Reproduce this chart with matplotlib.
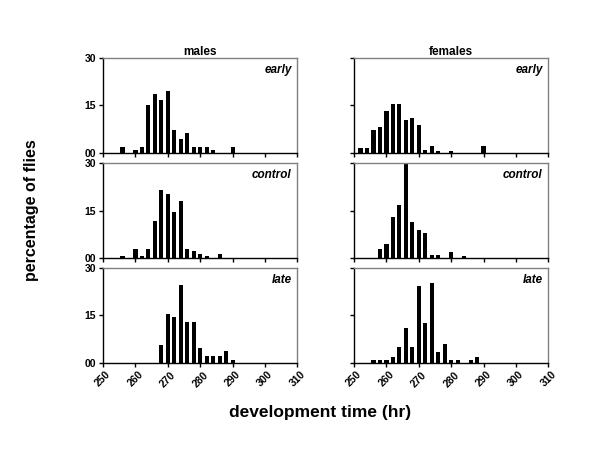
import matplotlib
matplotlib.use('Agg')
import matplotlib.pyplot as plt

plt.rcParams['font.family'] = ['Liberation Sans', 'DejaVu Sans']

# bin centres (hr) and percentage of flies
m_early_x = [256, 260, 262, 264, 266, 268, 270, 272, 274, 276, 278, 280, 282, 284, 290]
m_early_y = [1.7, 0.8, 1.7, 15.2, 18.7, 16.9, 19.7, 7.1, 4.4, 6.2, 1.7, 1.7, 1.7, 0.8, 1.7]

f_early_x = [252, 254, 256, 258, 260, 262, 264, 266, 268, 270, 272, 274, 276, 280, 290]
f_early_y = [1.4, 1.4, 7.2, 8.2, 13.3, 15.5, 15.5, 10.3, 11.1, 8.8, 0.7, 2.1, 0.6, 0.6, 2.1]

m_control_x = [256, 260, 262, 264, 266, 268, 270, 272, 274, 276, 278, 280, 282, 286]
m_control_y = [0.5, 2.7, 0.5, 2.7, 11.7, 21.4, 20.1, 14.5, 18.0, 2.7, 2.0, 1.3, 0.5, 1.3]

f_control_x = [258, 260, 262, 264, 266, 268, 270, 272, 274, 276, 280, 284]
f_control_y = [2.7, 4.3, 13.0, 16.8, 30.0, 11.3, 8.8, 8.0, 0.8, 0.8, 1.7, 0.7]

m_late_x = [268, 270, 272, 274, 276, 278, 280, 282, 284, 286, 288, 290]
m_late_y = [5.6, 15.5, 14.6, 24.7, 12.9, 12.9, 4.7, 2.0, 2.0, 2.0, 3.8, 1.0]

f_late_x = [256, 258, 260, 262, 264, 266, 268, 270, 272, 274, 276, 278, 280, 282, 286, 288]
f_late_y = [0.7, 0.7, 0.7, 1.7, 5.0, 10.9, 5.0, 24.5, 12.7, 25.3, 3.4, 5.8, 0.7, 0.7, 0.7, 1.7]

col_titles = ["males", "females"]
row_labels = ["early", "control", "late"]
data = [
    [(m_early_x, m_early_y), (f_early_x, f_early_y)],
    [(m_control_x, m_control_y), (f_control_x, f_control_y)],
    [(m_late_x, m_late_y), (f_late_x, f_late_y)],
]
xticks = [250, 260, 270, 280, 290, 300, 310]
yticks = [0, 15, 30]
ytick_labels = ["00", "15", "30"]

fig = plt.figure(figsize=(6, 4.5), dpi=100)

lefts = [0.1717, 0.59]
width = 0.324
bottoms = [0.6607, 0.4273, 0.194]
height = 0.2098

for r in range(3):
    for c in range(2):
        ax = fig.add_axes([lefts[c], bottoms[r], width, height])
        xs, ys = data[r][c]
        ax.bar(xs, ys, width=1.3, color='black')
        ax.set_xlim(250, 310)
        ax.set_ylim(0, 30)
        ax.set_xticks(xticks)
        ax.set_yticks(yticks)
        ax.tick_params(direction='out', length=3, width=1, labelsize=7.5, pad=2)
        if c == 0:
            ax.set_yticklabels(ytick_labels, fontweight='bold')
        else:
            ax.set_yticklabels([])
        if r == 2:
            ax.set_xticklabels([str(t) for t in xticks], rotation=45,
                               fontweight='bold', fontsize=7.5)
        else:
            ax.set_xticklabels([])
        for s in ['left', 'bottom']:
            ax.spines[s].set_color('black')
            ax.spines[s].set_linewidth(1)
        for s in ['top', 'right']:
            ax.spines[s].set_color('#808080')
            ax.spines[s].set_linewidth(1)
        ax.text(0.97, 0.88, row_labels[r], transform=ax.transAxes,
                ha='right', va='center', fontsize=8.5, fontweight='bold',
                style='italic')
        if r == 0:
            ax.set_title(col_titles[c], fontsize=8.5, fontweight='bold', pad=2)

fig.text(0.053, 0.533, "percentage of flies", rotation=90, ha='center',
         va='center', fontsize=11.5, fontweight='bold')
fig.text(0.533, 0.084, "development time (hr)", ha='center', va='center',
         fontsize=12.5, fontweight='bold')

plt.savefig("out.png", dpi=100)
